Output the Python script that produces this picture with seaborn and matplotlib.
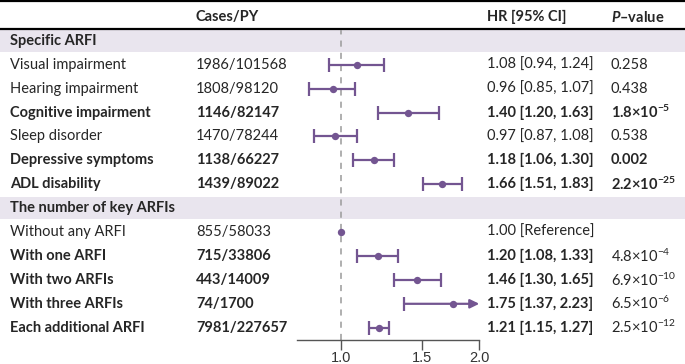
import numpy as np
import matplotlib
matplotlib.use("Agg")
import matplotlib.pyplot as plt
import seaborn as sns
import pandas as pd

sns.set_theme(style="white")
plt.rcParams["font.family"] = ["Lato", "DejaVu Sans"]
plt.rcParams["mathtext.fontset"] = "custom"
plt.rcParams["mathtext.rm"] = "Lato"
plt.rcParams["mathtext.it"] = "Lato:italic:bold"
plt.rcParams["mathtext.bf"] = "Lato:bold"

# data
labels = ["Visual impairment", "Hearing impairment", "Cognitive impairment", "Sleep disorder",
          "Depressive symptoms", "ADL disability",
          "Without any ARFI", "With one ARFI", "With two ARFIs", "With three ARFIs",
          "Each additional ARFI"]
cases = ["1986/101568", "1808/98120", "1146/82147", "1470/78244", "1138/66227", "1439/89022",
         "855/58033", "715/33806", "443/14009", "74/1700", "7981/227657"]
hr = [1.08, 0.96, 1.40, 0.97, 1.18, 1.66, 1.00, 1.20, 1.46, 1.75, 1.21]
lo = [0.94, 0.85, 1.20, 0.87, 1.06, 1.51, np.nan, 1.08, 1.30, 1.37, 1.15]
hi = [1.24, 1.07, 1.63, 1.08, 1.30, 1.83, np.nan, 1.33, 1.65, 2.23, 1.27]
hr_text = ["1.08 [0.94, 1.24]", "0.96 [0.85, 1.07]", "1.40 [1.20, 1.63]", "0.97 [0.87, 1.08]",
           "1.18 [1.06, 1.30]", "1.66 [1.51, 1.83]", "1.00 [Reference]", "1.20 [1.08, 1.33]",
           "1.46 [1.30, 1.65]", "1.75 [1.37, 2.23]", "1.21 [1.15, 1.27]"]
p_text = ["0.258", "0.438", "1.8×10$^{\\mathbf{-5}}$", "0.538", "0.002", "2.2×10$^{\\mathbf{-25}}$",
          "", "4.8×10$^{-4}$", "6.9×10$^{-10}$", "6.5×10$^{-6}$", "2.5×10$^{-12}$"]
bold_row = [False, False, True, False, True, True, False, True, True, True, True]
bold_p = [False, False, True, False, True, True, False, False, False, False, False]
sections = ["Specific ARFI", "The number of key ARFIs"]
section_rows = [1, 8]
data_rows = [2, 3, 4, 5, 6, 7, 9, 10, 11, 12, 13]
ticks = [1.0, 1.5, 2.0]

purple = "#735591"
band = "#e9e5ee"
fs = 10.5

df = pd.DataFrame({"row": data_rows, "hr": hr, "lo": lo, "hi": hi})

fig = plt.figure(figsize=(6.85, 3.64), dpi=100)

# table layer: row i sits at 17 + 23.9*i pixels from top
tab = fig.add_axes([0, 0, 1, 1])
tab.set_xlim(0, 685)
tab.set_ylim((364 - 17) / 23.9, -17 / 23.9)
tab.axis("off")

for r in section_rows:
    tab.axhspan(r - 0.47, r + 0.47, color=band, lw=0, zorder=0)
tab.axhline(-0.65, color="black", lw=1.6)
tab.axhline(0.49, color="black", lw=1.6)

tab.text(196, 0, "Cases/PY", fontsize=fs, fontweight="bold", va="center")
tab.text(487, 0, "HR [95% CI]", fontsize=fs, fontweight="bold", va="center")
tab.text(611, 0, "$P$–value", fontsize=fs, fontweight="bold", va="center")

for s, r in zip(sections, section_rows):
    tab.text(10, r, s, fontsize=fs, fontweight="bold", va="center")

for i, r in enumerate(data_rows):
    w = "bold" if bold_row[i] else "normal"
    tab.text(10, r, labels[i], fontsize=fs, fontweight=w, va="center")
    tab.text(196, r, cases[i], fontsize=fs, fontweight=w, va="center")
    tab.text(487, r, hr_text[i], fontsize=fs, fontweight=w, va="center")
    tab.text(611, r, p_text[i], fontsize=fs,
             fontweight="bold" if bold_p[i] else "normal", va="center")

# forest layer
y_top = (30 - 17) / 23.9
y_bot = (339.5 - 17) / 23.9
ax = fig.add_axes([297 / 685, (364 - 339.5) / 364, (479.3 - 297) / 685, (339.5 - 30) / 364])
ax.patch.set_alpha(0)
ax.set_xscale("log")
xmin, xmax = 0.8, 2.0
ax.set_xlim(xmin, xmax)
ax.set_ylim(y_bot, y_top)
ax.axvline(1.0, color="#9a9a9a", lw=1.1, ls=(0, (4, 4)), zorder=1)

for _, d in df.iterrows():
    if np.isnan(d["lo"]):
        continue
    if d["hi"] > xmax:
        ax.annotate("", xy=(xmax, d["row"]), xytext=(d["lo"], d["row"]),
                    arrowprops=dict(arrowstyle="-|>,head_length=0.45,head_width=0.22",
                                    color=purple, lw=1.6, shrinkA=0, shrinkB=0),
                    annotation_clip=False)
        ax.plot([d["lo"]], [d["row"]], marker="|", ms=10, mew=1.6, color=purple)
    else:
        ax.errorbar(d["hr"], d["row"], xerr=[[d["hr"] - d["lo"]], [d["hi"] - d["hr"]]],
                    fmt="none", ecolor=purple, elinewidth=1.6, capsize=5, capthick=1.6)

sns.scatterplot(data=df, x="hr", y="row", ax=ax, color=purple, s=28, edgecolor=purple,
                linewidth=0, zorder=3, legend=False)

for sp in ["top", "right", "left"]:
    ax.spines[sp].set_visible(False)
ax.spines["bottom"].set_color("#555555")
ax.spines["bottom"].set_linewidth(1.0)
ax.set_xticks(ticks)
ax.set_xticklabels([f"{t:.1f}" for t in ticks], fontfamily="Liberation Sans", fontsize=10.5,
                   color="#333333")
ax.xaxis.set_minor_locator(matplotlib.ticker.NullLocator())
ax.tick_params(axis="x", direction="out", length=7, width=1.0, color="#555555", pad=1,
               bottom=True)
ax.set_yticks([])
ax.set_xlabel("")
ax.set_ylabel("")

fig.savefig("out.png", dpi=100)
